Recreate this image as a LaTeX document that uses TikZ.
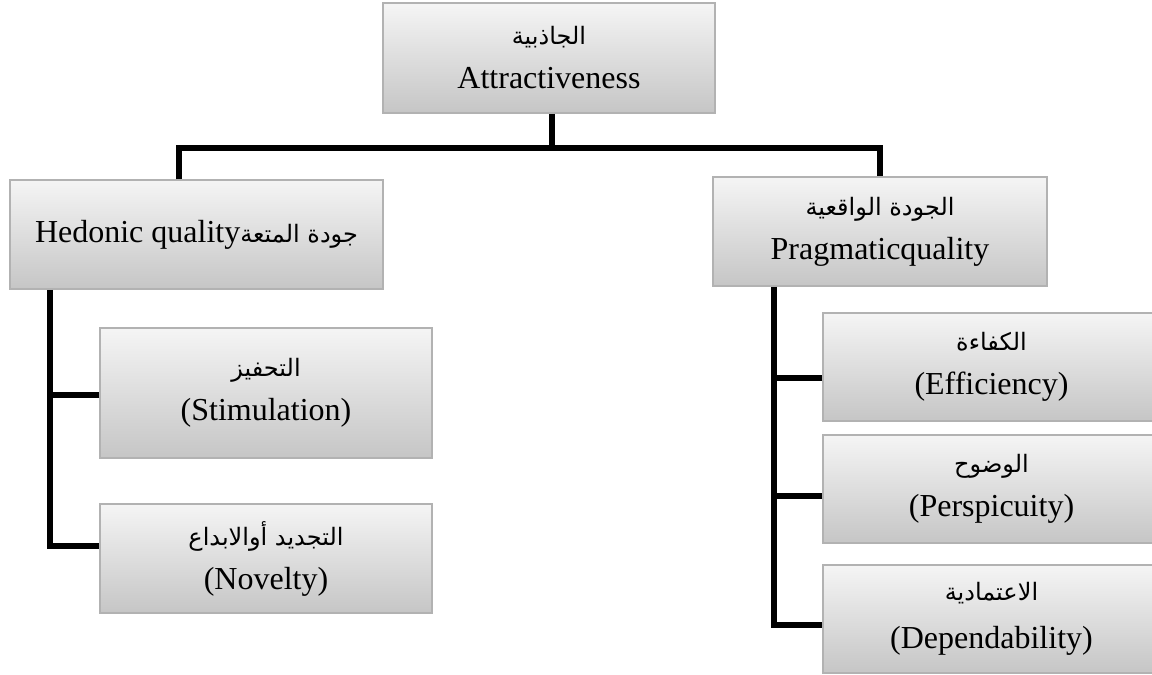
\documentclass[tikz,border=0pt]{standalone}
\usepackage{fontspec}
\setmainfont{Liberation Serif}
\newfontfamily\arabicfont[Script=Arabic]{DejaVu Sans}
\TeXXeTstate=1
\newcommand{\ar}[1]{{\arabicfont\fontsize{24}{30}\selectfont\beginR #1\endR}}
\tikzset{box/.style={draw=gray!60, line width=1.5pt, top color=gray!8, bottom color=gray!45,
   inner sep=0pt, align=center, font=\fontsize{32}{44}\selectfont},
 wide/.style={minimum width=332pt, minimum height=109pt},
 link/.style={line width=6pt},
 }

\begin{document}
\begin{tikzpicture}[x=1pt,y=1pt]
  \useasboundingbox (0,0) rectangle (1152,-675);
  \clip (0,0) rectangle (1152,-675);
  % boxes
  \node[box, wide, minimum height=110pt] (top) at (549,-58) {\ar{الجاذبية}\\Attractiveness};
  \node[box, wide, minimum width=373pt] (hed) at (196.5,-234.5) {Hedonic quality\ar{جودة المتعة}};
  \node[box, wide, minimum width=334pt] (prag) at (880,-231.5) {\ar{الجودة الواقعية}\\Pragmaticquality};
  \node[box, wide, minimum height=130pt] (stim) at (266,-393) {\ar{التحفيز}\\(Stimulation)};
  \node[box, wide] (nov) at (266,-558.5) {\ar{التجديد أوالابداع}\\(Novelty)};
  \node[box, wide, minimum width=337pt, minimum height=108pt] (eff) at (991.5,-367) {\ar{الكفاءة}\\(Efficiency)};
  \node[box, wide, minimum width=337pt, minimum height=108pt] (per) at (991.5,-489) {\ar{الوضوح}\\(Perspicuity)};
  \node[box, wide, minimum width=337pt, minimum height=108pt] (dep) at (991.5,-619) {\ar{الاعتمادية}\\[4pt](Dependability)};
  % connectors
  \coordinate (bar) at (552,-148);
  \coordinate (hl) at (179,-148);
  \coordinate (pl) at (880,-148);
  \coordinate (lv) at (50,0);
  \coordinate (rv) at (774,0);
  \draw[link] (bar |- top.south) -- (bar);
  \draw[link] (hl |- hed.north) -- (hl) -- (pl) -- (pl |- prag.north);
  \draw[link] (lv |- hed.south) |- ([yshift=13pt]nov.west);
  \draw[link] ([yshift=-2pt]stim.west) -- ([yshift=-2pt]stim.west -| lv);
  \draw[link] (rv |- prag.south) |- ([yshift=-6pt]dep.west);
  \draw[link] ([yshift=-11pt]eff.west) -- ([yshift=-11pt]eff.west -| rv);
  \draw[link] ([yshift=-7pt]per.west) -- ([yshift=-7pt]per.west -| rv);
\end{tikzpicture}
\end{document}
